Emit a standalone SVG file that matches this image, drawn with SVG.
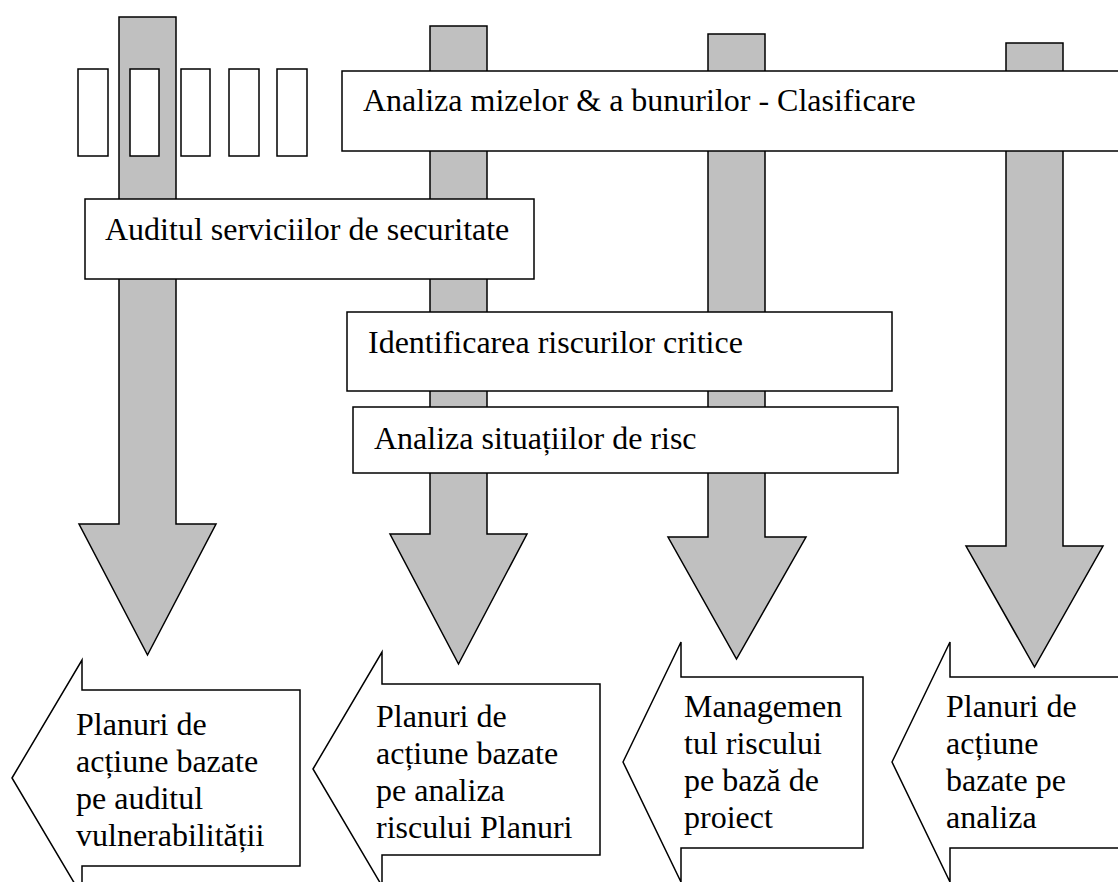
<svg xmlns="http://www.w3.org/2000/svg" width="1118" height="882" viewBox="0 0 1118 882">
<style>
.g{fill:#c0c0c0;stroke:#000;stroke-width:1.5;stroke-linejoin:miter}
.b{fill:#fff;stroke:#000;stroke-width:1.5}
.t{font-family:"Liberation Serif","Times New Roman",serif;font-size:32px;fill:#000}
</style>
<rect width="1118" height="882" fill="#fff"/>
<g id="connectors">
<polygon class="g" points="119,17 176,17 176,524 216,524 147.5,655 79,524 119,524"/>
<polygon class="g" points="430,26 487,26 487,534 527,534 458.5,664 390,534 430,534"/>
<polygon class="g" points="708,34 765,34 765,537 806,537 736.5,659 668,537 708,537"/>
<polygon class="g" points="1006,43 1063,43 1063,546 1103,546 1034.5,667 966,546 1006,546"/>
</g>
<g id="marks">
<rect class="b" x="78" y="69" width="30" height="87"/>
<rect class="b" x="130" y="69" width="29" height="87"/>
<rect class="b" x="181" y="69" width="29" height="87"/>
<rect class="b" x="229" y="69" width="30" height="87"/>
<rect class="b" x="277" y="69" width="30" height="87"/>
</g>
<g id="n-analiza">
<rect class="b" x="342" y="71" width="790" height="80"/>
<text class="t" x="363" y="111">Analiza mizelor &amp; a bunurilor - Clasificare</text>
</g>
<g id="n-audit">
<rect class="b" x="85" y="199" width="449" height="80"/>
<text class="t" x="105" y="240">Auditul serviciilor de securitate</text>
</g>
<g id="n-ident">
<rect class="b" x="347" y="312" width="545" height="79"/>
<text class="t" x="368" y="353">Identificarea riscurilor critice</text>
</g>
<g id="n-situatii">
<rect class="b" x="353" y="407" width="545" height="66"/>
<text class="t" x="374" y="449">Analiza situațiilor de risc</text>
</g>
<g id="out1">
<polygon class="b" points="12,778 82,660 82,690 300,690 300,866 82,866 82,896"/>
<text class="t" x="76"><tspan x="76" y="735">Planuri de</tspan><tspan x="76" y="772">acțiune bazate</tspan><tspan x="76" y="809">pe auditul</tspan><tspan x="76" y="846">vulnerabilității</tspan></text>
</g>
<g id="out2">
<polygon class="b" points="313,769 382,652 382,684 600,684 600,855 382,855 382,886"/>
<text class="t"><tspan x="376" y="727">Planuri de</tspan><tspan x="376" y="764">acțiune bazate</tspan><tspan x="376" y="801">pe analiza</tspan><tspan x="376" y="838">riscului Planuri</tspan></text>
</g>
<g id="out3">
<polygon class="b" points="623,762 681,642 681,677 863,677 863,848 681,848 681,882"/>
<text class="t"><tspan x="684" y="717">Managemen</tspan><tspan x="684" y="754">tul riscului</tspan><tspan x="684" y="791">pe bază de</tspan><tspan x="684" y="828">proiect</tspan></text>
</g>
<g id="out4">
<polygon class="b" points="892,762 950,642 950,677 1130,677 1130,848 950,848 950,882"/>
<text class="t"><tspan x="946" y="717">Planuri de</tspan><tspan x="946" y="754">acțiune</tspan><tspan x="946" y="791">bazate pe</tspan><tspan x="946" y="828">analiza</tspan></text>
</g>
</svg>
